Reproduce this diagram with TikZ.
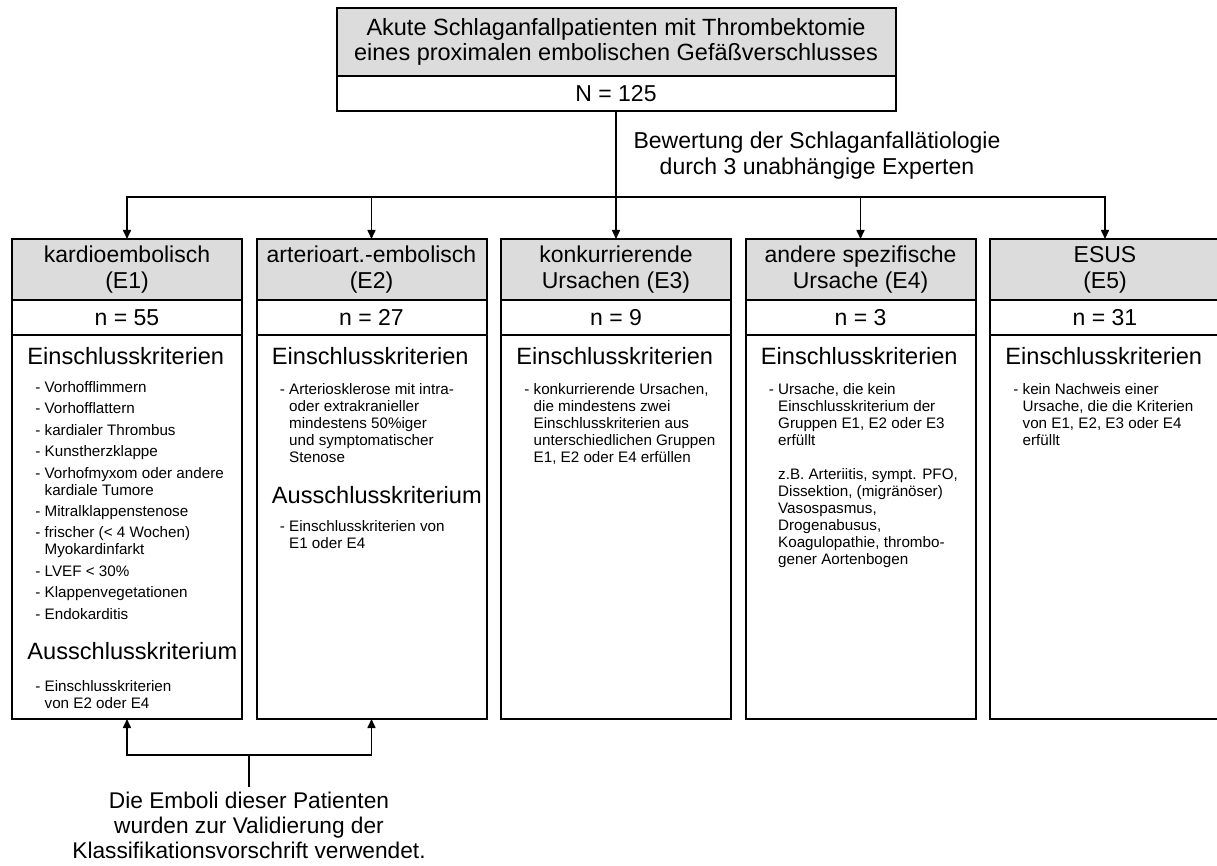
\documentclass[tikz,border=0pt]{standalone}
\usepackage{fontspec}
\setmainfont{Liberation Sans}
\usetikzlibrary{positioning,arrows.meta}
\definecolor{headgray}{HTML}{DCDCDC}
\newcommand{\cont}{\hphantom{- }}

\begin{document}
\begin{tikzpicture}[x=0.5pt, y=-0.5pt,
    cell/.style={draw, line width=1pt, inner sep=0pt, outer sep=0pt, minimum width=115pt, align=center, font=\fontsize{11.5}{13}\selectfont},
    headcell/.style={cell, fill=headgray, minimum height=30.5pt},
    countcell/.style={cell, minimum height=17.5pt},
    bodycell/.style={cell, minimum height=192pt},
    crit/.style={anchor=west, inner sep=0pt, font=\fontsize{11.8}{13}\selectfont},
    items/.style={anchor=north west, inner sep=0pt, align=left, font=\fontsize{7.6}{8.5}\selectfont},
    link/.style={line width=0.8pt},
    arr/.style={link, -{Triangle[length=4.5pt, width=4pt]}}]
  \useasboundingbox (0,0) rectangle (1217,866);

  % Ausgangskollektiv
  \node[cell, fill=headgray, minimum width=279.5pt, minimum height=34pt, font=\fontsize{11.75}{12.5}\selectfont] (top) at (616,42) {Akute Schlaganfallpatienten mit Thrombektomie\\eines proximalen embolischen Gefäßverschlusses};
  \node[countcell, minimum width=279.5pt, below=0pt of top] (total) {N = 125};
  \node[align=center, font=\fontsize{11.5}{13}\selectfont] (rating) at (817,156) {Bewertung der Schlaganfallätiologie\\durch 3 unabhängige Experten};

  % Gruppen E1 bis E5
  \node[headcell] (h1) at (127,269.5) {kardioembolisch\\(E1)};
  \node[headcell] (h2) at (371.5,269.5) {arterioart.-embolisch\\(E2)};
  \node[headcell] (h3) at (616,269.5) {konkurrierende\\Ursachen (E3)};
  \node[headcell] (h4) at (860.5,269.5) {andere spezifische\\Ursache (E4)};
  \node[headcell] (h5) at (1105,269.5) {ESUS\\(E5)};
  \foreach \i/\n in {1/55,2/27,3/9,4/3,5/31} {
    \node[countcell, below=0pt of h\i] (n\i) {n = \n};
    \node[bodycell, below=0pt of n\i] (b\i) {};
    \node[crit] (c\i) at ([xshift=7.5pt, yshift=-10.5pt]b\i.north west) {Einschlusskriterien};
  }

  % Kriterien
  \node[items] (l1) at ([xshift=11.5pt, yshift=-23pt]b1.north west) {- Vorhofflimmern\\[2.2pt]
    - Vorhofflattern\\[2.2pt]
    - kardialer Thrombus\\[2.2pt]
    - Kunstherzklappe\\[2.2pt]
    - Vorhofmyxom oder andere\\\cont kardiale Tumore\\[2.2pt]
    - Mitralklappenstenose\\[2.2pt]
    - frischer (< 4 Wochen)\\\cont Myokardinfarkt\\[2.2pt]
    - LVEF < 30\%\\[2.2pt]
    - Klappenvegetationen\\[2.2pt]
    - Endokarditis};
  \node[crit] (x1) at ([xshift=7.5pt, yshift=-158pt]b1.north west) {Ausschlusskriterium};
  \node[items] (y1) at ([xshift=11.5pt, yshift=-172.5pt]b1.north west) {- Einschlusskriterien\\\cont von E2 oder E4};

  \node[items] (l2) at ([xshift=11.5pt, yshift=-24pt]b2.north west) {- Arteriosklerose mit intra-\\\cont oder extrakranieller\\\cont mindestens 50\%iger\\\cont und symptomatischer\\\cont Stenose};
  \node[crit] (x2) at ([xshift=7.5pt, yshift=-80pt]b2.north west) {Ausschlusskriterium};
  \node[items] (y2) at ([xshift=11.5pt, yshift=-92.75pt]b2.north west) {- Einschlusskriterien von\\\cont E1 oder E4};

  \node[items] (l3) at ([xshift=11.5pt, yshift=-24pt]b3.north west) {- konkurrierende Ursachen,\\\cont die mindestens zwei\\\cont Einschlusskriterien aus\\\cont unterschiedlichen Gruppen\\\cont E1, E2 oder E4 erfüllen};

  \node[items] (l4) at ([xshift=11.5pt, yshift=-24pt]b4.north west) {- Ursache, die kein\\\cont Einschlusskriterium der\\\cont Gruppen E1, E2 oder E3\\\cont erfüllt\\[8.5pt]
    \cont z.B. Arteriitis, sympt. PFO,\\\cont Dissektion, (migränöser)\\\cont Vasospasmus,\\\cont Drogenabusus,\\\cont Koagulopathie, thrombo-\\\cont gener Aortenbogen};

  \node[items] (l5) at ([xshift=11.5pt, yshift=-24pt]b5.north west) {- kein Nachweis einer\\\cont Ursache, die die Kriterien\\\cont von E1, E2, E3 oder E4\\\cont erfüllt};

  % Verbindungen
  \coordinate (split) at (616,197);
  \draw[link] (total) -- (split);
  \foreach \i in {1,...,5}
    \draw[arr] (split) -| (h\i.north);

  \node[align=center, inner sep=2.5pt, anchor=north, font=\fontsize{11.35}{12.5}\selectfont] (note) at (249,787) {Die Emboli dieser Patienten\\wurden zur Validierung der\\Klassifikationsvorschrift verwendet.};
  \coordinate (join) at (249,755);
  \draw[link] (note) -- (join);
  \draw[arr] (join) -| (b1.south);
  \draw[arr] (join) -| (b2.south);
\end{tikzpicture}
\end{document}
